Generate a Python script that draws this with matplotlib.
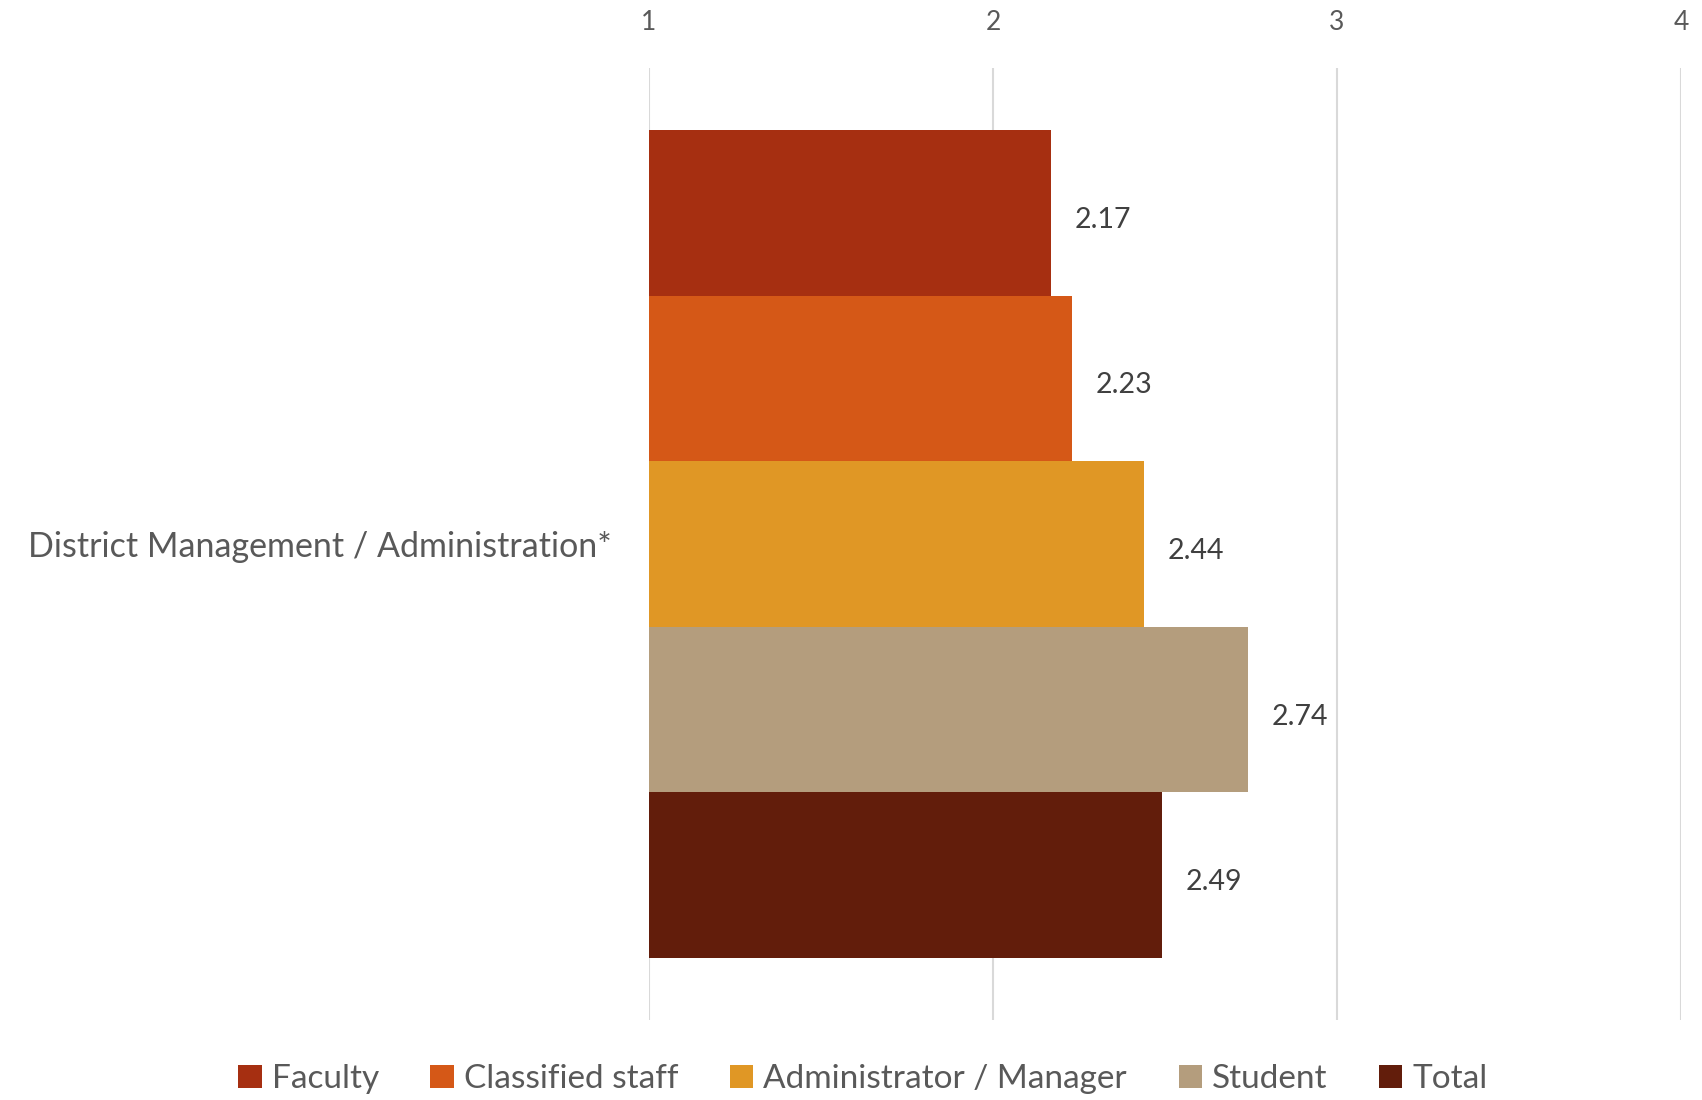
import numpy as np
import matplotlib.pyplot as plt

plt.rcParams['font.family'] = ['Lato', 'DejaVu Sans']

category = 'District Management / Administration*'
groups = ['Faculty', 'Classified staff', 'Administrator / Manager', 'Student', 'Total']
values = [2.17, 2.23, 2.44, 2.74, 2.49]
colors = ['#A62F11', '#D55817', '#E09725', '#B49D7D', '#621D0B']
xticks = [1, 2, 3, 4]

text_col = '#595959'

fig = plt.figure(figsize=(17.02, 11), dpi=100)
ax = fig.add_axes([0.3813, 0.0727, 0.6064, 0.8655])

n = len(groups)
h = 0.87 / n
for i, (g, v, c) in enumerate(zip(groups, values, colors)):
    y = 0.87 / 2 - h / 2 - i * h
    ax.barh(y, v - 1, left=1, height=h, color=c, label=g, zorder=3)
    ax.annotate('%.2f' % v, (v, y), xytext=(17, -5), textcoords='offset points',
                ha='left', va='center', fontsize=20.5, color='#404040')

ax.set_xlim(1, 4)
ax.set_ylim(-0.5, 0.5)
ax.set_xticks(xticks)
ax.set_xticklabels([str(t) for t in xticks])
ax.xaxis.tick_top()
ax.tick_params(axis='x', length=0, pad=24, labelsize=19, labelcolor=text_col)
ax.set_yticks([0])
ax.set_yticklabels([category])
ax.tick_params(axis='y', length=0, pad=27, labelsize=24.5, labelcolor=text_col)
ax.grid(axis='x', color='#D9D9D9', linewidth=1.5, zorder=0)
for s in ax.spines.values():
    s.set_visible(False)

leg = fig.legend(loc='lower center', bbox_to_anchor=(0.507, -0.022), ncol=n, frameon=False,
                 fontsize=24, handlelength=0.7, handleheight=0.7, handletextpad=0.3,
                 columnspacing=1.55, labelcolor=text_col)

plt.savefig('out.png', dpi=100)
